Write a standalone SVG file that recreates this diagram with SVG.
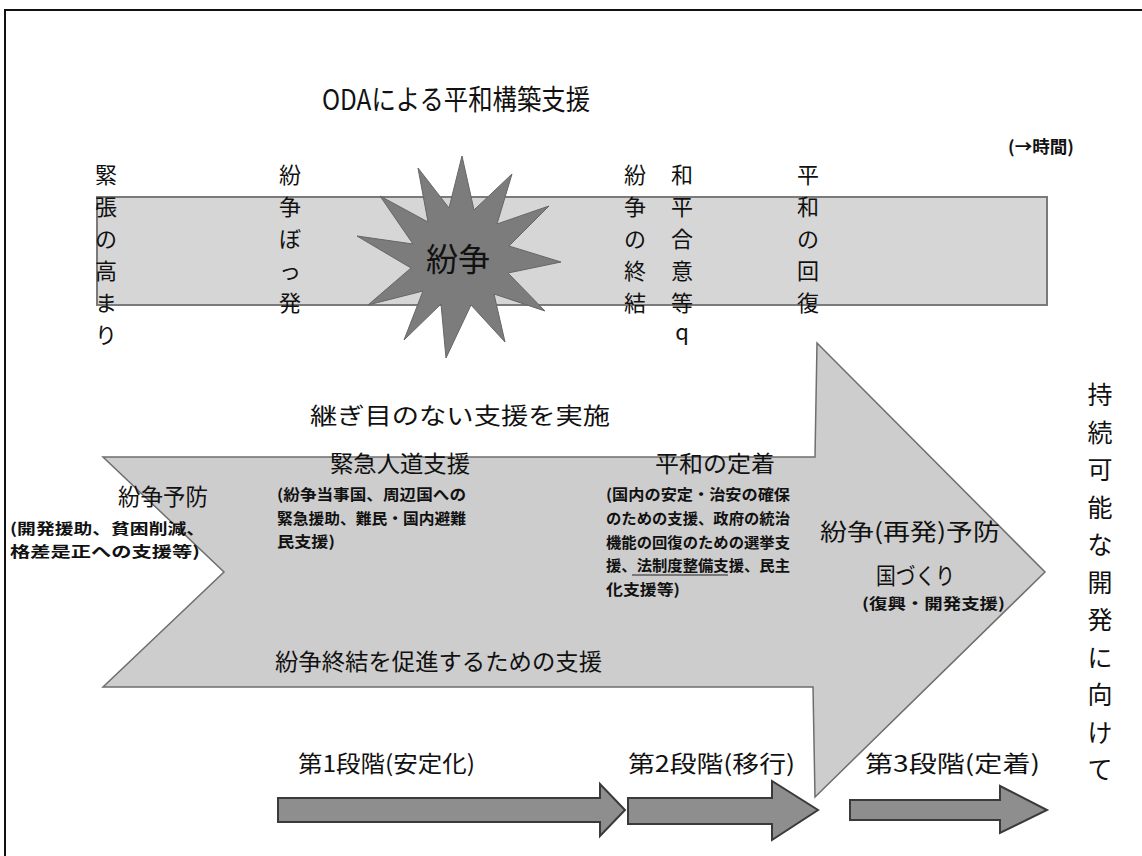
<svg xmlns="http://www.w3.org/2000/svg" width="1142" height="856" viewBox="0 0 1142 856">
<defs>
<style>
text{font-family:"Noto Sans CJK JP","Noto Sans",sans-serif;fill:#111;}
.v22{font-size:22px;text-anchor:middle;}
.v26{font-size:25px;text-anchor:middle;}
.lbl{font-size:23px;}
.sm{font-size:15px;font-weight:bold;}
.band{fill:#d6d6d6;stroke:#7a7a7a;stroke-width:2;}
.big{fill:#cdcdcd;stroke:#6e6e6e;stroke-width:1.5;}
.star{fill:#7c7c7c;stroke:#666;stroke-width:1;}
.stg{fill:#8e8e8e;stroke:#3a3a3a;stroke-width:2;}
</style>
</defs>
<rect width="1142" height="856" fill="#fff"/>
<path d="M5,856 V10 H1142" fill="none" stroke="#111" stroke-width="2"/>

<g id="title">
<text x="322" y="110" font-size="28" textLength="268" lengthAdjust="spacingAndGlyphs">ODAによる平和構築支援</text>
<text x="1008" y="153" font-size="17" font-weight="bold" textLength="66" lengthAdjust="spacingAndGlyphs">(→時間)</text>
</g>

<g id="timeline-band">
<rect class="band" x="97" y="197" width="950" height="108"/>
</g>

<g id="conflict-star">
<polygon class="star" points="462,156 474,210 512,174 497,224 549,206 509,246 561,262 508,273 545,311 494,294 505,342 471,305 446,358 441,304 404,340 423,291 368,305 411,268 357,236 413,244 380,196 428,222 418,168 449,208"/>
<text x="458" y="271" font-size="32" text-anchor="middle">紛争</text>
</g>

<g id="phase-tension">
<text class="v22"><tspan x="106" y="183">緊</tspan><tspan x="106" y="215">張</tspan><tspan x="106" y="247">の</tspan><tspan x="106" y="279">高</tspan><tspan x="106" y="311">ま</tspan><tspan x="106" y="343">り</tspan></text>
</g>
<g id="phase-outbreak">
<text class="v22"><tspan x="290" y="183">紛</tspan><tspan x="290" y="215">争</tspan><tspan x="290" y="247">ぼ</tspan><tspan x="290" y="279">っ</tspan><tspan x="290" y="311">発</tspan></text>
</g>
<g id="phase-end">
<text class="v22"><tspan x="635" y="183">紛</tspan><tspan x="635" y="215">争</tspan><tspan x="635" y="247">の</tspan><tspan x="635" y="279">終</tspan><tspan x="635" y="311">結</tspan></text>
</g>
<g id="phase-agreement">
<text class="v22"><tspan x="682" y="183">和</tspan><tspan x="682" y="215">平</tspan><tspan x="682" y="247">合</tspan><tspan x="682" y="279">意</tspan><tspan x="682" y="311">等</tspan><tspan x="682" y="340">q</tspan></text>
</g>
<g id="phase-recovery">
<text class="v22"><tspan x="808" y="183">平</tspan><tspan x="808" y="215">和</tspan><tspan x="808" y="247">の</tspan><tspan x="808" y="279">回</tspan><tspan x="808" y="311">復</tspan></text>
</g>

<g id="seamless-arrow">
<text class="lbl" x="310" y="424" font-size="25" textLength="300" lengthAdjust="spacingAndGlyphs">継ぎ目のない支援を実施</text>
<polygon class="big" points="103,457 815,457 817,343 1045,572 815,797 813,687 103,687 224,572"/>
</g>

<g id="prevention">
<text class="lbl" x="118" y="505" textLength="90" lengthAdjust="spacingAndGlyphs">紛争予防</text>
<text class="sm" x="10" y="534" textLength="195" lengthAdjust="spacingAndGlyphs">(開発援助、貧困削減、</text>
<text class="sm" x="10" y="557" textLength="190" lengthAdjust="spacingAndGlyphs">格差是正への支援等)</text>
</g>

<g id="humanitarian">
<text class="lbl" x="330" y="472" textLength="140" lengthAdjust="spacingAndGlyphs">緊急人道支援</text>
<text class="sm" x="277" y="500" textLength="189" lengthAdjust="spacingAndGlyphs">(紛争当事国、周辺国への</text>
<text class="sm" x="277" y="524" textLength="189" lengthAdjust="spacingAndGlyphs">緊急援助、難民・国内避難</text>
<text class="sm" x="277" y="547" textLength="58" lengthAdjust="spacingAndGlyphs">民支援)</text>
</g>

<g id="consolidation">
<text class="lbl" x="655" y="472" textLength="120" lengthAdjust="spacingAndGlyphs">平和の定着</text>
<text class="sm" x="606" y="500" textLength="184" lengthAdjust="spacingAndGlyphs">(国内の安定・治安の確保</text>
<text class="sm" x="606" y="524" textLength="184" lengthAdjust="spacingAndGlyphs">のための支援、政府の統治</text>
<text class="sm" x="606" y="548" textLength="184" lengthAdjust="spacingAndGlyphs">機能の回復のための選挙支</text>
<text class="sm" x="606" y="571" textLength="184" lengthAdjust="spacingAndGlyphs">援、法制度整備支援、民主</text>
<line x1="632" y1="575" x2="728" y2="575" stroke="#222" stroke-width="1"/>
<text class="sm" x="606" y="595" textLength="74" lengthAdjust="spacingAndGlyphs">化支援等)</text>
</g>

<g id="nation-building">
<text class="lbl" x="820" y="540" font-size="22" textLength="180" lengthAdjust="spacingAndGlyphs">紛争(再発)予防</text>
<text class="lbl" x="876" y="584" font-size="21" textLength="79" lengthAdjust="spacingAndGlyphs">国づくり</text>
<text class="sm" x="862" y="609" font-size="14" textLength="143" lengthAdjust="spacingAndGlyphs">(復興・開発支援)</text>
</g>

<g id="termination">
<text class="lbl" x="275" y="670" textLength="327" lengthAdjust="spacingAndGlyphs">紛争終結を促進するための支援</text>
</g>

<g id="sustainable">
<text class="v26"><tspan x="1100" y="404">持</tspan><tspan x="1100" y="442">続</tspan><tspan x="1100" y="479">可</tspan><tspan x="1100" y="517">能</tspan><tspan x="1100" y="554">な</tspan><tspan x="1100" y="592">開</tspan><tspan x="1100" y="629">発</tspan><tspan x="1100" y="667">に</tspan><tspan x="1100" y="704">向</tspan><tspan x="1100" y="742">け</tspan><tspan x="1100" y="779">て</tspan></text>
</g>

<g id="stage-labels">
<text class="lbl" x="298" y="772" font-size="22" textLength="177" lengthAdjust="spacingAndGlyphs">第1段階(安定化)</text>
<text class="lbl" x="628" y="772" font-size="22" textLength="167" lengthAdjust="spacingAndGlyphs">第2段階(移行)</text>
<text class="lbl" x="865" y="772" font-size="22" textLength="175" lengthAdjust="spacingAndGlyphs">第3段階(定着)</text>
</g>

<g id="connectors">
<polygon class="stg" points="278,798 600,798 600,784 625,810 600,836 600,822 278,822"/>
<polygon class="stg" points="628,798 772,798 772,781 818,810 772,840 772,824 628,824"/>
<polygon class="stg" points="850,800 1000,800 1000,786 1047,810 1000,833 1000,820 850,820"/>
</g>
</svg>
